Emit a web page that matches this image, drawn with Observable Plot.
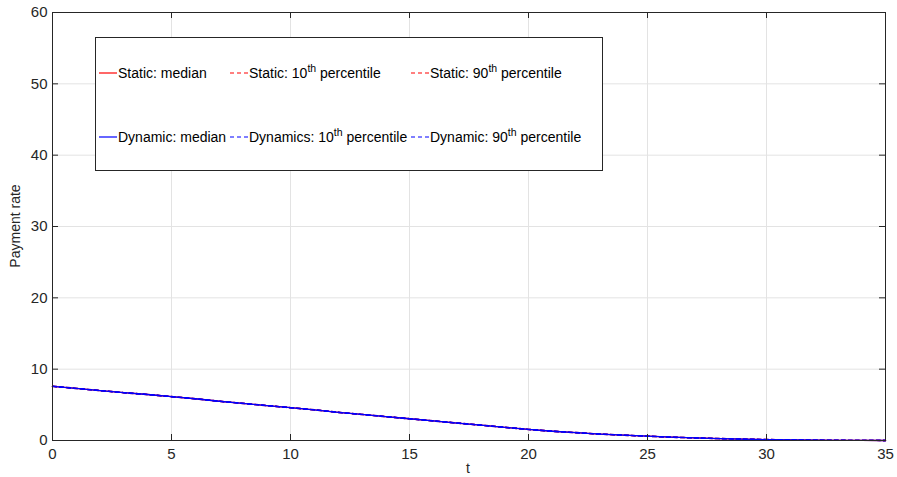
<!DOCTYPE html>
<html>
<head>
<meta charset="utf-8">
<script src="https://cdn.jsdelivr.net/npm/d3@7"></script>
<script src="https://cdn.jsdelivr.net/npm/@observablehq/plot@0.6"></script>
<style>
  html, body { margin: 0; padding: 0; background: #fff; }
  #chart svg { display: block; }
</style>
</head>
<body>
<div id="chart"></div>
<script>
const t = [0,1,2,3,4,5,6,7,8,9,10,11,12,13,14,15,16,17,18,19,20,21,22,23,24,25,26,27,28,29,30,31,32,33,34,35];

const staticMedian  = [7.6,7.3,7.0,6.7,6.45,6.15,5.85,5.5,5.2,4.9,4.6,4.3,3.95,3.65,3.35,3.05,2.75,2.45,2.15,1.85,1.55,1.3,1.1,0.9,0.75,0.6,0.47,0.36,0.27,0.19,0.13,0.08,0.05,0.03,0.01,0.0];
const static10      = [7.58,7.28,6.98,6.68,6.43,6.13,5.83,5.48,5.18,4.88,4.58,4.28,3.93,3.63,3.33,3.03,2.73,2.43,2.13,1.83,1.53,1.28,1.08,0.88,0.73,0.58,0.45,0.34,0.25,0.17,0.11,0.07,0.04,0.02,0.01,0.0];
const static90      = [7.62,7.32,7.02,6.72,6.47,6.17,5.87,5.52,5.22,4.92,4.62,4.32,3.97,3.67,3.37,3.07,2.77,2.47,2.17,1.87,1.57,1.32,1.12,0.92,0.77,0.62,0.49,0.38,0.29,0.21,0.15,0.09,0.06,0.04,0.02,0.0];
const dynamicMedian = [7.6,7.3,7.0,6.7,6.45,6.15,5.85,5.5,5.2,4.9,4.6,4.3,3.95,3.65,3.35,3.05,2.75,2.45,2.15,1.85,1.55,1.3,1.1,0.9,0.75,0.6,0.47,0.36,0.27,0.19,0.13,0.08,0.05,0.03,0.01,0.0];
const dynamic10     = [7.58,7.28,6.98,6.68,6.43,6.13,5.83,5.48,5.18,4.88,4.58,4.28,3.93,3.63,3.33,3.03,2.73,2.43,2.13,1.83,1.53,1.28,1.08,0.88,0.73,0.58,0.45,0.34,0.25,0.17,0.11,0.07,0.04,0.02,0.01,0.0];
const dynamic90     = [7.62,7.32,7.02,6.72,6.47,6.17,5.87,5.52,5.22,4.92,4.62,4.32,3.97,3.67,3.37,3.07,2.77,2.47,2.17,1.87,1.57,1.32,1.12,0.92,0.77,0.62,0.49,0.38,0.29,0.21,0.15,0.09,0.06,0.04,0.02,0.0];

const xTicks = [0,5,10,15,20,25,30,35];
const yTicks = [0,10,20,30,40,50,60];

const seriesNames = ["Static: median","Static: 10th percentile","Static: 90th percentile","Dynamic: median","Dynamics: 10th percentile","Dynamic: 90th percentile"];
const seriesValues = [staticMedian, static10, static90, dynamicMedian, dynamic10, dynamic90];
const seriesColors = ["#ff0000","#ff0000","#ff0000","#0000ff","#0000ff","#0000ff"];
const seriesDash = [null,"4,3","4,3",null,"4,3","4,3"];

const rows = [];
seriesNames.forEach((name, s) => {
  t.forEach((tt, i) => rows.push({series: name, s, t: tt, v: seriesValues[s][i]}));
});

const axisColor = "#262626";
const gridColor = "#e3e3e3";
const xMin = 0, xMax = 35, yMin = 0, yMax = 60;

const lineMarks = seriesNames.map((name, s) =>
  Plot.line(rows.filter(d => d.s === s), {
    x: "t", y: "v",
    stroke: seriesColors[s],
    strokeWidth: 1.3,
    strokeDasharray: seriesDash[s] || undefined
  })
);

const chart = Plot.plot({
  width: 897,
  height: 477,
  marginLeft: 52,
  marginRight: 12,
  marginTop: 12,
  marginBottom: 37,
  style: {fontFamily: "'Liberation Sans', Arial, sans-serif", fontSize: "15px", color: axisColor, background: "#fff"},
  x: {domain: [xMin, xMax]},
  y: {domain: [yMin, yMax]},
  marks: [
    Plot.gridX(xTicks, {stroke: gridColor, strokeOpacity: 1}),
    Plot.gridY(yTicks, {stroke: gridColor, strokeOpacity: 1}),
    ...lineMarks,
    // inward ticks on all four sides
    Plot.ruleX(xTicks, {x: d => d, y1: yMin, y2: yMin, insetTop: -6, stroke: axisColor}),
    Plot.ruleX(xTicks, {x: d => d, y1: yMax, y2: yMax, insetBottom: -6, stroke: axisColor}),
    Plot.ruleY(yTicks, {y: d => d, x1: xMin, x2: xMin, insetRight: -6, stroke: axisColor}),
    Plot.ruleY(yTicks, {y: d => d, x1: xMax, x2: xMax, insetLeft: -6, stroke: axisColor}),
    Plot.axisX(xTicks, {anchor: "bottom", tickSize: 0, tickPadding: 8, label: null}),
    Plot.axisY(yTicks, {anchor: "left", tickSize: 0, tickPadding: 5, label: null}),
    Plot.frame({stroke: axisColor, strokeWidth: 1})
  ]
});

document.getElementById("chart").appendChild(chart);

const svg = d3.select(chart);
// axis labels
svg.append("text")
  .attr("x", 468).attr("y", 473)
  .attr("text-anchor", "middle")
  .attr("font-size", 14).attr("fill", axisColor)
  .text("t");
svg.append("text")
  .attr("transform", "translate(20,226) rotate(-90)")
  .attr("text-anchor", "middle")
  .attr("font-size", 14).attr("fill", axisColor)
  .text("Payment rate");

// legend
const lg = svg.append("g").attr("font-size", 14).attr("fill", "#000").attr("text-anchor", "start");
lg.append("rect")
  .attr("x", 95.5).attr("y", 37.5).attr("width", 507).attr("height", 133)
  .attr("fill", "#fff").attr("stroke", axisColor).attr("stroke-width", 1);

const colX = [99, 230, 411];
const rowY = [73, 137];
const legendParts = [
  ["Static: median", null, null],
  ["Static: 10", "th", " percentile"],
  ["Static: 90", "th", " percentile"],
  ["Dynamic: median", null, null],
  ["Dynamics: 10", "th", " percentile"],
  ["Dynamic: 90", "th", " percentile"]
];
legendParts.forEach((parts, s) => {
  const cx = colX[s % 3], cy = rowY[Math.floor(s / 3)];
  lg.append("line")
    .attr("x1", cx).attr("x2", cx + 18).attr("y1", cy).attr("y2", cy)
    .attr("stroke", seriesColors[s]).attr("stroke-width", 1.2)
    .attr("stroke-dasharray", seriesDash[s]);
  const tx = lg.append("text").attr("x", cx + 19).attr("y", cy + 5).attr("text-anchor", "start");
  tx.append("tspan").text(parts[0]);
  if (parts[1]) {
    tx.append("tspan").attr("dy", -6).attr("font-size", 10.5).text(parts[1]);
    tx.append("tspan").attr("dy", 6).text(parts[2]);
  }
});
</script>
</body>
</html>
